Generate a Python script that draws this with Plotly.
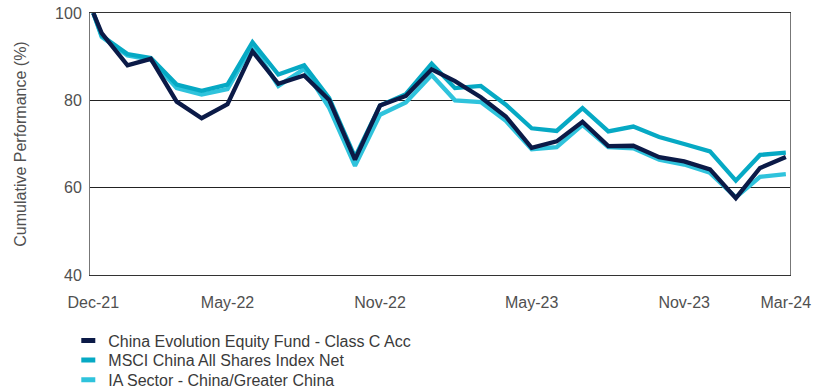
import plotly.graph_objects as go

# Observation dates: launch point, then month-ends Dec-21 .. Mar-24
dates = ["2021-12-21"] + [
    "2021-12-31",
    "2022-01-31", "2022-02-28", "2022-03-31", "2022-04-30", "2022-05-31", "2022-06-30",
    "2022-07-31", "2022-08-31", "2022-09-30", "2022-10-31", "2022-11-30", "2022-12-31",
    "2023-01-31", "2023-02-28", "2023-03-31", "2023-04-30", "2023-05-31", "2023-06-30",
    "2023-07-31", "2023-08-31", "2023-09-30", "2023-10-31", "2023-11-30", "2023-12-31",
    "2024-01-31", "2024-02-29", "2024-03-31",
]

fund = [100, 95.4, 88.0, 89.5, 79.7, 75.9, 79.1, 91.2, 83.8, 85.7, 80.1, 66.4, 78.8, 81.0,
        87.1, 84.4, 80.7, 76.3, 69.1, 70.6, 75.1, 69.5, 69.6, 67.0, 66.0, 64.2, 57.6, 64.5, 67.0]
msci = [100, 94.8, 90.6, 89.7, 83.6, 82.2, 83.6, 93.3, 85.9, 88.0, 80.5, 67.0, 78.8, 81.4,
        88.4, 82.8, 83.3, 79.0, 73.6, 73.0, 78.2, 72.9, 74.0, 71.6, 70.0, 68.3, 61.6, 67.5, 68.0]
sector = [100, 94.5, 90.3, 89.3, 82.8, 81.3, 82.6, 92.6, 83.3, 87.2, 78.3, 65.0, 76.7, 79.5,
          85.8, 80.0, 79.6, 75.3, 68.8, 69.3, 74.4, 69.3, 69.0, 66.4, 65.3, 63.4, 57.8, 62.5, 63.1]

tick_idx = [0, 6, 12, 18, 24, 28]
tick_text = ["Dec-21", "May-22", "Nov-22", "May-23", "Nov-23", "Mar-24"]
y_ticks = [40, 60, 80, 100]

names = ["China Evolution Equity Fund - Class C Acc",
         "MSCI China All Shares Index Net",
         "IA Sector - China/Greater China"]
colors = ["#0b1a47", "#06a9c4", "#2fc3dc"]
series = [fund, msci, sector]
legend_ids = ["legend", "legend2", "legend3"]

fig = go.Figure()

# draw sector first so the fund line sits on top
for s, c in reversed(list(zip(series, colors))):
    fig.add_trace(go.Scatter(x=dates, y=s, mode="lines", showlegend=False,
                             line=dict(color=c, width=4.3), hoverinfo="skip"))

# legend entries with small bar swatches, one stacked legend per series
for n, c, lg in zip(names, colors, legend_ids):
    fig.add_trace(go.Scatter(x=[None], y=[None], mode="markers", name=n, legend=lg,
                             marker=dict(symbol="line-ew", size=10,
                                         line=dict(color=c, width=6))))

font = dict(family="Liberation Sans, Arial, sans-serif", size=16, color="#505050")
legend_font = dict(family="Liberation Sans, Arial, sans-serif", size=16, color="#3a3a3a")


def legend_box(y):
    return dict(x=-0.031, xanchor="left", y=y, yanchor="middle", font=legend_font,
                bgcolor="rgba(0,0,0,0)", borderwidth=0)


fig.update_layout(
    width=828, height=389,
    margin=dict(l=90, r=38, t=13, b=114, autoexpand=False),
    paper_bgcolor="white", plot_bgcolor="white",
    font=font,
    showlegend=True,
    legend=legend_box(-0.250),
    legend2=legend_box(-0.325),
    legend3=legend_box(-0.400),
    xaxis=dict(type="date", range=["2021-12-17", "2024-04-05"],
               tickvals=[dates[i] for i in tick_idx], ticktext=tick_text,
               showgrid=False, zeroline=False,
               showline=True, linecolor="#333333", linewidth=1, mirror=True,
               ticks="outside", ticklen=13, tickcolor="rgba(0,0,0,0)",
               tickfont=font),
    yaxis=dict(range=[40, 100], tickvals=y_ticks,
               showgrid=True, gridcolor="#222222", gridwidth=1, zeroline=False,
               showline=True, linecolor="#777777", linewidth=1, mirror=True,
               ticks="outside", ticklen=4, tickcolor="rgba(0,0,0,0)",
               tickfont=font,
               title=dict(text="Cumulative Performance (%)", font=font, standoff=24)),
)

fig.write_html("out.html")
